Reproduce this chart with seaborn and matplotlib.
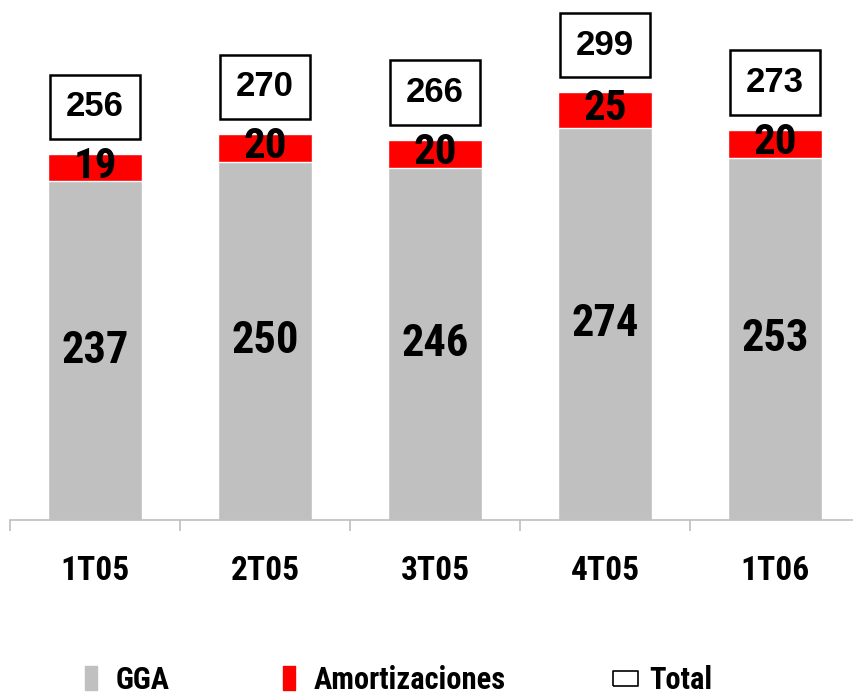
import matplotlib
matplotlib.use("Agg")
import matplotlib.pyplot as plt
import seaborn as sns
import pandas as pd
import numpy as np
from matplotlib.lines import Line2D

# Data
quarters = ["1T05", "2T05", "3T05", "4T05", "1T06"]
gga = [237, 250, 246, 274, 253]
amortizaciones = [19, 20, 20, 25, 20]
total = [256, 270, 266, 299, 273]

gray = "#c0c0c0"
red = "#ff0000"
narrow = ["Roboto Condensed", "Archivo Narrow", "Liberation Sans", "DejaVu Sans"]
wide = ["Liberation Sans", "DejaVu Sans"]

sns.set_style("white")
plt.rcParams["font.family"] = narrow
plt.rcParams["text.color"] = "black"
plt.rcParams["xtick.color"] = "black"

df = pd.DataFrame({"quarter": quarters, "gga": gga,
                   "amort": amortizaciones, "total": total})

fig = plt.figure(figsize=(8.54, 6.97), dpi=100)
# axes: baseline at y=520px, x spans 10..860px
ax = fig.add_axes([10 / 854, 177 / 697, 850 / 854, 520 / 697])

# stacked bars: draw total in red, GGA in gray on top of it
sns.barplot(data=df, x="quarter", y="total", color=red, saturation=1,
            width=0.55, ax=ax)
sns.barplot(data=df, x="quarter", y="gga", color=gray, saturation=1,
            width=0.55, ax=ax)

ax.set_xlim(-0.5, len(quarters) - 0.5)
ax.set_ylim(0, 520 / 1.43)

# labels inside bars and the boxed totals
for i, row in df.iterrows():
    ax.text(i, row["gga"] / 2, f"{row['gga']}", ha="center", va="center",
            fontsize=32, fontweight="bold", family=narrow)
    ax.text(i, row["gga"] + row["amort"] / 2 + 1, f"{row['amort']}",
            ha="center", va="center", fontsize=31, fontweight="bold",
            family=narrow)
    ax.text(i, row["total"] + 33, f"{row['total']}", ha="center",
            va="center", fontsize=25, fontweight="bold", family=wide,
            bbox=dict(boxstyle="square,pad=0.45", fc="white", ec="black",
                      lw=1.8))

# axis styling
for s in ["top", "right", "left"]:
    ax.spines[s].set_visible(False)
ax.spines["bottom"].set_color("#bfbfbf")
ax.spines["bottom"].set_linewidth(1.2)
ax.set_yticks([])
ax.set_xlabel("")
ax.set_ylabel("")
ax.set_xticks(np.arange(len(quarters)))
ax.set_xticklabels(quarters, fontsize=24, fontweight="bold")
ax.set_xticks(np.arange(len(quarters) + 1) - 0.5, minor=True)
ax.tick_params(axis="x", which="major", bottom=False, length=0, pad=25,
               labelcolor="black")
ax.tick_params(axis="x", which="minor", bottom=True, length=8, width=1.2,
               color="#bfbfbf", direction="out")

# legend with rectangle markers
tall = [(-0.27, -0.5), (0.27, -0.5), (0.27, 0.5), (-0.27, 0.5), (-0.27, -0.5)]
flat = [(-0.5, -0.3), (0.5, -0.3), (0.5, 0.3), (-0.5, 0.3), (-0.5, -0.3)]
handles = [
    Line2D([], [], ls="none", marker=tall, markersize=17, mfc=gray, mec=gray),
    Line2D([], [], ls="none", marker=tall, markersize=17, mfc=red, mec=red),
    Line2D([], [], ls="none", marker=flat, markersize=18, mfc="white",
           mec="black", mew=1.2),
]
fig.legend(handles, ["GGA", "Amortizaciones", "Total"], ncol=3,
           loc="center", bbox_to_anchor=(0.465, 17 / 697), frameon=False,
           prop={"family": narrow, "size": 22, "weight": "bold"},
           columnspacing=3.6, handletextpad=0.5, handlelength=0.6,
           borderpad=0.1)

fig.savefig("out.png", dpi=100)
